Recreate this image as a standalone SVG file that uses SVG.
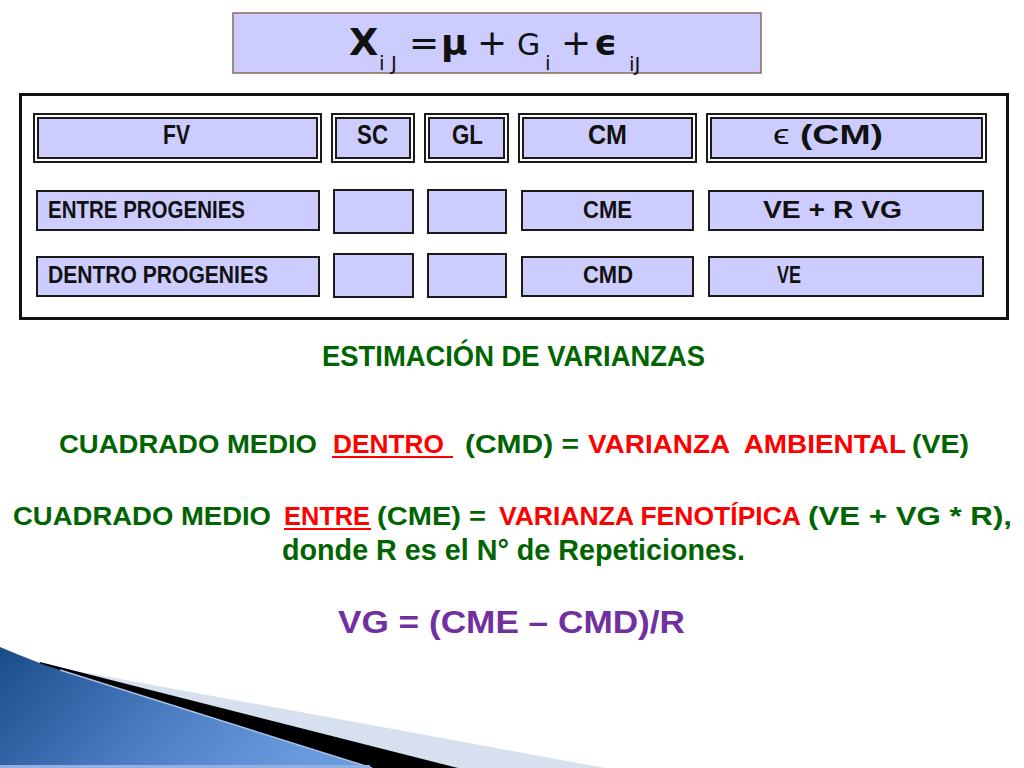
<svg xmlns="http://www.w3.org/2000/svg" width="1024" height="768" viewBox="0 0 1024 768">
<defs>
<style>
.cell{fill:#ccccff;stroke:#1a1a1a;stroke-width:2}
.hout{fill:#ffffff;stroke:#1a1a1a;stroke-width:2}
.t{font-family:"Liberation Sans",Arial,sans-serif;font-weight:bold;fill:#111111}
.h{font-size:27px}
.r{font-size:24px}
.g{font-family:"Liberation Sans",Arial,sans-serif;font-weight:bold;font-size:29px;fill:#006400}
.s{font-size:26.5px}
.red{fill:#ff0000}
.ul{stroke:#ff0000;stroke-width:2}
.f{font-family:"DejaVu Sans","Liberation Sans",sans-serif;fill:#111111}
</style>
<linearGradient id="blue" x1="0" y1="0" x2="1" y2="0.3">
<stop offset="0" stop-color="#1c4b8a"/>
<stop offset="0.6" stop-color="#4f80c6"/>
<stop offset="1" stop-color="#6a9ade"/>
</linearGradient>
</defs>
<rect x="0" y="0" width="1024" height="768" fill="#ffffff"/>

<g id="formula">
<rect x="233" y="13" width="528" height="60" fill="#ccccff" stroke="#8b6a5a" stroke-width="1.5"/>
<text class="f" font-size="38" font-weight="bold" x="349" y="55">X</text>
<text class="f" font-size="20" x="379" y="70">i J</text>
<text class="f" font-size="36" x="409" y="55">=</text>
<text class="f" font-size="36" font-weight="bold" x="441" y="55">μ</text>
<text class="f" font-size="36" x="477" y="55">+</text>
<text class="f" font-size="30" x="517" y="55">G</text>
<text class="f" font-size="20" x="545" y="70">i</text>
<text class="f" font-size="36" x="561" y="55">+</text>
<text class="f" font-size="36" font-weight="bold" x="594" y="55">ϵ</text>
<text class="f" font-size="20" x="629" y="71">iJ</text>
</g>

<g id="table">
<rect x="20.5" y="94.5" width="987" height="224" fill="#ffffff" stroke="#111111" stroke-width="3"/>
</g>

<g id="h-fv"><rect class="hout" x="34" y="114" width="287" height="48"/><rect class="cell" x="38" y="118" width="279" height="40"/><text class="t h" x="163" y="144" textLength="27" lengthAdjust="spacingAndGlyphs">FV</text></g>
<g id="h-sc"><rect class="hout" x="332" y="114" width="82" height="48"/><rect class="cell" x="336" y="118" width="74" height="40"/><text class="t h" x="357" y="144" textLength="31" lengthAdjust="spacingAndGlyphs">SC</text></g>
<g id="h-gl"><rect class="hout" x="425" y="114" width="83" height="48"/><rect class="cell" x="429" y="118" width="75" height="40"/><text class="t h" x="452" y="144" textLength="31" lengthAdjust="spacingAndGlyphs">GL</text></g>
<g id="h-cm"><rect class="hout" x="519" y="114" width="177" height="48"/><rect class="cell" x="523" y="118" width="169" height="40"/><text class="t h" x="588" y="144" textLength="39" lengthAdjust="spacingAndGlyphs">CM</text></g>
<g id="h-ecm"><rect class="hout" x="707" y="114" width="279" height="48"/><rect class="cell" x="711" y="118" width="271" height="40"/><text class="t h" x="773" y="144" textLength="110" lengthAdjust="spacingAndGlyphs"><tspan font-weight="normal">ϵ</tspan> (CM)</text></g>

<g id="r1-fv"><rect class="cell" x="37" y="191" width="282" height="39"/><text class="t r" x="48" y="218" textLength="197" lengthAdjust="spacingAndGlyphs">ENTRE PROGENIES</text></g>
<g id="r1-sc"><rect class="cell" x="334" y="190" width="79" height="43"/></g>
<g id="r1-gl"><rect class="cell" x="428" y="190" width="78" height="43"/></g>
<g id="r1-cm"><rect class="cell" x="522" y="191" width="171" height="39"/><text class="t r" x="583" y="218" textLength="49" lengthAdjust="spacingAndGlyphs">CME</text></g>
<g id="r1-ecm"><rect class="cell" x="709" y="191" width="274" height="39"/><text class="t r" x="763" y="218" textLength="139" lengthAdjust="spacingAndGlyphs">VE + R VG</text></g>

<g id="r2-fv"><rect class="cell" x="37" y="257" width="282" height="39"/><text class="t r" x="48" y="283" textLength="220" lengthAdjust="spacingAndGlyphs">DENTRO PROGENIES</text></g>
<g id="r2-sc"><rect class="cell" x="334" y="254" width="79" height="43"/></g>
<g id="r2-gl"><rect class="cell" x="428" y="254" width="78" height="43"/></g>
<g id="r2-cm"><rect class="cell" x="522" y="257" width="171" height="39"/><text class="t r" x="583" y="283" textLength="50" lengthAdjust="spacingAndGlyphs">CMD</text></g>
<g id="r2-ecm"><rect class="cell" x="709" y="257" width="274" height="39"/><text class="t r" x="777" y="283" textLength="24" lengthAdjust="spacingAndGlyphs">VE</text></g>

<g id="connectors"></g>

<g id="notes">
<text class="g" x="322" y="366" textLength="383" lengthAdjust="spacingAndGlyphs">ESTIMACIÓN DE VARIANZAS</text>

<text class="g s" x="59" y="453" textLength="258" lengthAdjust="spacingAndGlyphs">CUADRADO MEDIO</text>
<text class="g s red" x="333" y="453" textLength="111" lengthAdjust="spacingAndGlyphs">DENTRO</text>
<line class="ul" x1="332" y1="457" x2="453" y2="457"/>
<text class="g s" x="465" y="453" textLength="114" lengthAdjust="spacingAndGlyphs">(CMD) =</text>
<text class="g s red" x="588" y="453" textLength="318" lengthAdjust="spacingAndGlyphs" xml:space="preserve">VARIANZA  AMBIENTAL</text>
<text class="g s" x="912" y="453" textLength="57" lengthAdjust="spacingAndGlyphs">(VE)</text>

<text class="g s" x="13" y="525" textLength="258" lengthAdjust="spacingAndGlyphs">CUADRADO MEDIO</text>
<text class="g s red" x="284" y="525" textLength="86" lengthAdjust="spacingAndGlyphs">ENTRE</text>
<line class="ul" x1="284" y1="529" x2="371" y2="529"/>
<text class="g s" x="377" y="525" textLength="109" lengthAdjust="spacingAndGlyphs">(CME) =</text>
<text class="g s red" x="499" y="525" textLength="302" lengthAdjust="spacingAndGlyphs">VARIANZA FENOTÍPICA</text>
<text class="g s" x="808" y="525" textLength="204" lengthAdjust="spacingAndGlyphs">(VE + VG * R),</text>

<text class="g" x="282" y="560" textLength="463" lengthAdjust="spacingAndGlyphs">donde R es el N° de Repeticiones.</text>
<text x="338" y="633" font-family="Liberation Sans,Arial,sans-serif" font-weight="bold" font-size="32" fill="#7030a0" textLength="347" lengthAdjust="spacingAndGlyphs">VG = (CME – CMD)/R</text>
</g>

<g id="decoration">
<path d="M60,668 L605,768 L0,768 Z" fill="#d6e0ee"/>
<path d="M40,662 L458,768 L0,768 Z" fill="#000000"/>
<path d="M0,647 C20,655 40,664 60,670 L372,768 L0,768 Z" fill="url(#blue)"/>
<line x1="60" y1="670" x2="372" y2="768" stroke="#a9c3ea" stroke-width="1.5"/>
<rect x="0" y="765" width="370" height="3" fill="#8fb1e3"/>
</g>
</svg>
